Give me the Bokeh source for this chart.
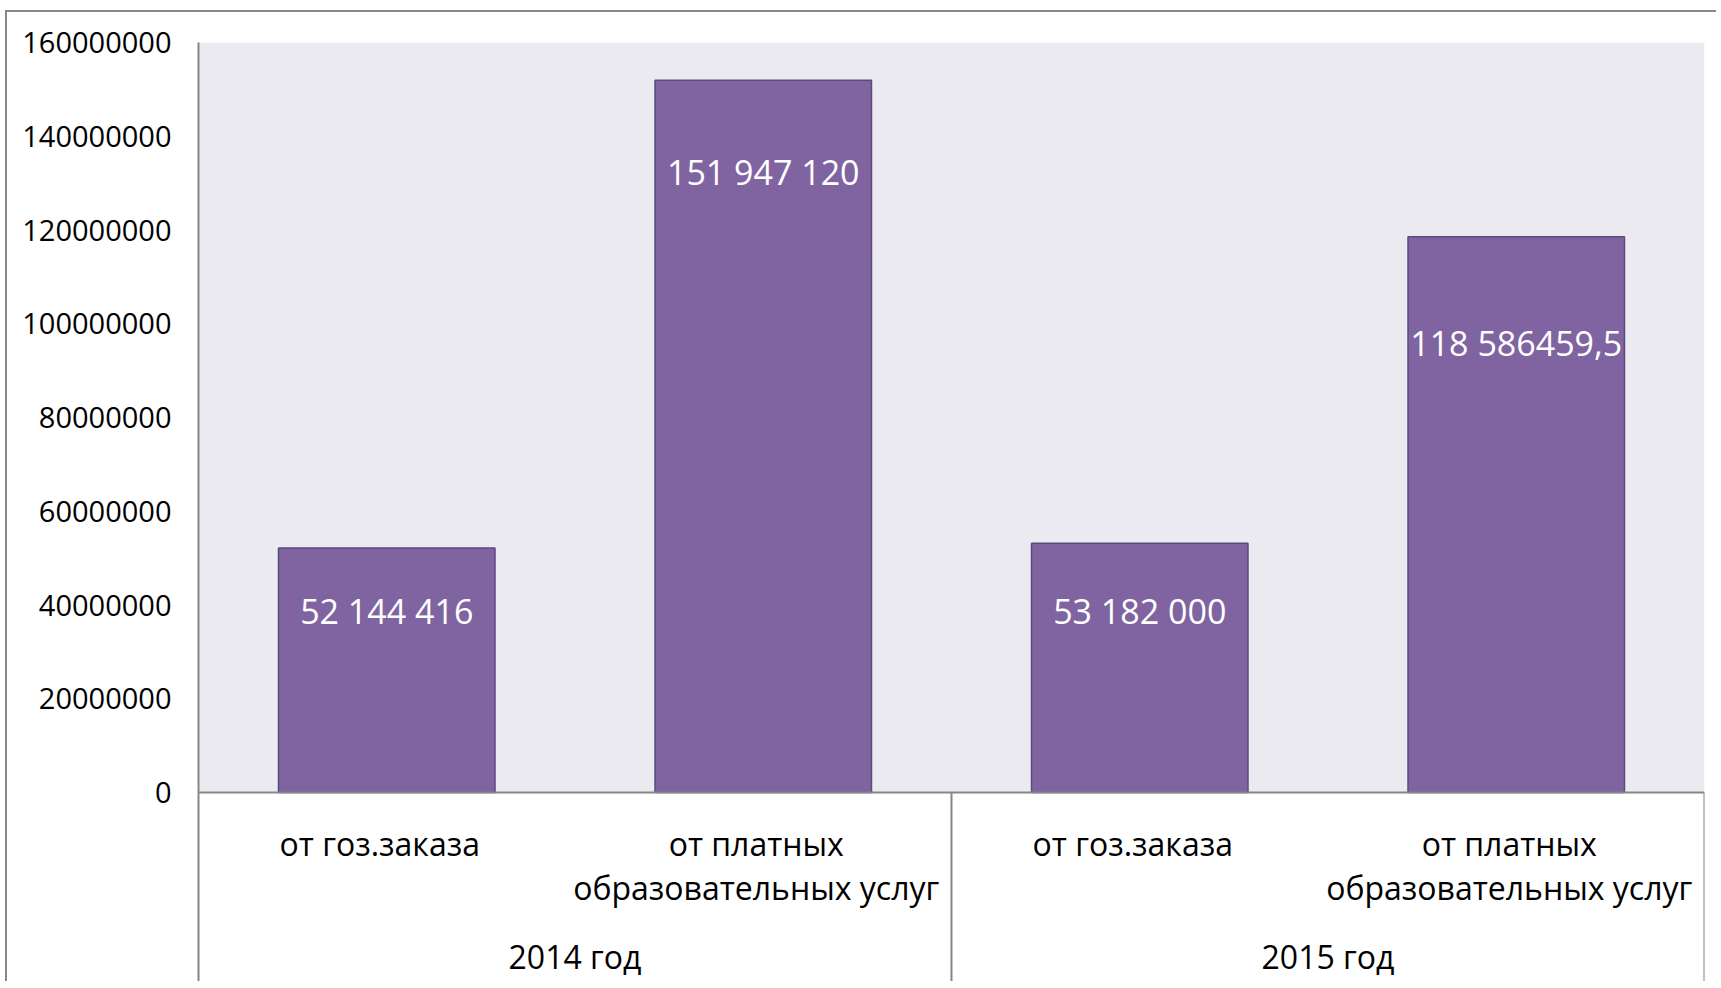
from bokeh.plotting import figure
from bokeh.models import Range1d, FixedTicker, NumeralTickFormatter, Span, BoxAnnotation, ColumnDataSource
from bokeh.core.properties import value
from bokeh.embed import file_html
from bokeh.resources import INLINE

# ---- data ----
years = ["2014 год", "2015 год"]
categories = ["от гоз.заказа", "от платных\nобразовательных услуг",
              "от гоз.заказа", "от платных\nобразовательных услуг"]
values = [52144416, 151947120, 53182000, 118586459.5]
value_labels = ["52 144 416", "151 947 120", "53 182 000", "118 586459,5"]
label_y = [38800000, 132300000, 38800000, 96000000]
y_ticks = [0, 20000000, 40000000, 60000000, 80000000, 100000000, 120000000, 140000000, 160000000]

FONT = "Open Sans"
GRAY = "#868686"
n = len(categories)
xs = [i + 0.5 for i in range(n)]
y_bottom = -40300000

p = figure(width=1711, height=971, output_backend="svg", toolbar_location=None,
           x_range=Range1d(0, n), y_range=Range1d(y_bottom, y_ticks[-1]),
           min_border_left=191, min_border_top=30, min_border_right=14, min_border_bottom=2)
p.outline_line_color = None
p.xgrid.visible = False
p.ygrid.visible = False
p.xaxis.visible = False
p.background_fill_color = "white"
p.border_fill_color = "white"
p.styles = {"border-top": "2px solid #878787", "border-left": "2px solid #878787",
            "margin-left": "5px", "margin-top": "10px"}

yax = p.yaxis[0]
yax.ticker = FixedTicker(ticks=y_ticks)
yax.formatter = NumeralTickFormatter(format="0")
yax.major_tick_in = 0
yax.major_tick_out = 0
yax.minor_tick_in = 0
yax.minor_tick_out = 0
yax.axis_line_color = GRAY
yax.axis_line_width = 2
yax.major_label_standoff = 27
yax.major_label_text_font = FONT
yax.major_label_text_font_size = "29px"
yax.major_label_text_color = "black"

# plot area background above zero
p.add_layout(BoxAnnotation(bottom=0, fill_color="#ECEAF1", fill_alpha=1.0,
                           line_color=None, level="underlay"))

src = ColumnDataSource(dict(x=xs, top=values, lab=value_labels, ly=label_y))
p.vbar(x="x", top="top", bottom=0, width=0.575, source=src,
       fill_color="#8064A2", line_color="#5C4A7D", line_width=1.5)
p.text(x="x", y="ly", text="lab", source=src, text_color="white",
       text_font=value(FONT), text_font_size="34px",
       text_align="center", text_baseline="middle")

# zero line and category separators
p.add_layout(Span(location=0, dimension="width", line_color=GRAY, line_width=2))
sep_x = [len(categories) / len(years) * (k + 1) for k in range(len(years))]
p.segment(x0=sep_x, y0=[0] * len(sep_x), x1=sep_x, y1=[y_bottom] * len(sep_x),
          line_color=GRAY, line_width=2)

# category labels (split into lines)
line_step = 9400000
cx, cy, ct = [], [], []
for x, c in zip(xs, categories):
    for j, line in enumerate(c.split("\n")):
        cx.append(x)
        cy.append(-10900000 - j * line_step)
        ct.append(line)
p.text(x=cx, y=cy, text=ct, text_color="black", text_font=value(FONT),
       text_font_size="32px", text_align="center", text_baseline="middle",
       x_offset=-7)

per = len(categories) // len(years)
yx = [per * k + per / 2 for k in range(len(years))]
p.text(x=yx, y=[-35000000] * len(years), text=years, text_color="black",
       text_font=value(FONT), text_font_size="32px",
       text_align="center", text_baseline="middle")

open("out.html", "w").write(file_html(p, INLINE))
